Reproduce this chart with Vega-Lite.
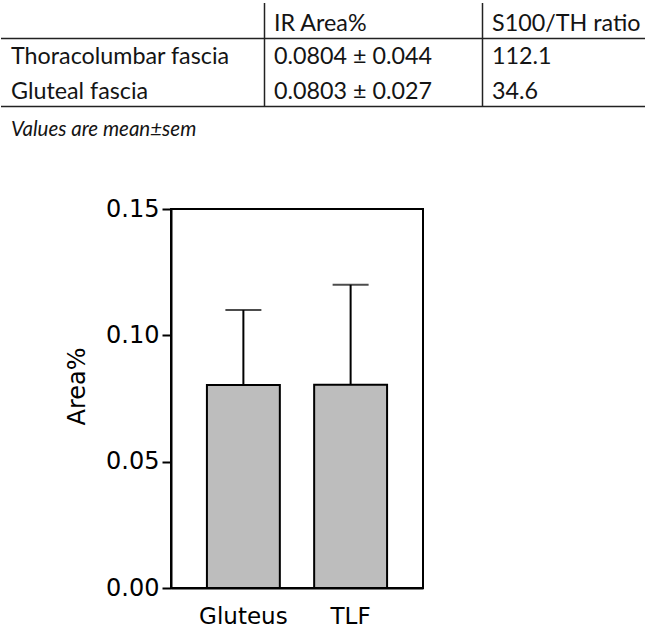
{
  "$schema": "https://vega.github.io/schema/vega-lite/v6.json",
  "width": 252,
  "height": 379,
  "padding": {"left": 0, "top": 2, "right": 0, "bottom": 4},
  "background": "white",
  "config": {"view": {"stroke": "black", "strokeWidth": 2}},
  "datasets": {
    "bars": [
      {"group": "Gluteus", "mean": 0.0803, "upper": 0.110},
      {"group": "TLF", "mean": 0.0804, "upper": 0.120}
    ],
    "cells": [
      {"row": 0, "col": 1, "text": "IR Area%"},
      {"row": 0, "col": 2, "text": "S100/TH ratio"},
      {"row": 1, "col": 0, "text": "Thoracolumbar fascia"},
      {"row": 1, "col": 1, "text": "0.0804 ± 0.044"},
      {"row": 1, "col": 2, "text": "112.1"},
      {"row": 2, "col": 0, "text": "Gluteal fascia"},
      {"row": 2, "col": 1, "text": "0.0803 ± 0.027"},
      {"row": 2, "col": 2, "text": "34.6"}
    ],
    "note": [
      {"row": 3, "col": 0, "text": "Values are mean±sem"}
    ],
    "hlines": [
      {"row": 0, "from": 0, "to": 3},
      {"row": 2, "from": 0, "to": 3}
    ],
    "vlines": [
      {"col": 1, "top": 0, "bottom": 2},
      {"col": 2, "top": 0, "bottom": 2}
    ]
  },
  "layer": [
    {
      "data": {"name": "bars"},
      "layer": [
        {
          "mark": {"type": "bar", "fill": "#bdbdbd", "stroke": "black", "strokeWidth": 2},
          "encoding": {
            "x": {
              "field": "group", "type": "nominal", "sort": null,
              "scale": {"paddingInner": 0.32, "paddingOuter": 0.335},
              "axis": {
                "title": null, "labelAngle": 0, "ticks": false, "domain": true,
                "domainColor": "black", "domainWidth": 2,
                "labelFont": "DejaVu Sans", "labelFontSize": 23, "labelColor": "black",
                "labelPadding": 17
              }
            },
            "y": {
              "field": "mean", "type": "quantitative",
              "scale": {"domain": [0, 0.15], "nice": false},
              "axis": {
                "title": "Area%", "values": [0, 0.05, 0.1, 0.15], "format": ".2f",
                "grid": false, "domainColor": "black", "domainWidth": 2,
                "tickColor": "black", "tickWidth": 2, "tickSize": 9,
                "labelFont": "DejaVu Sans", "labelFontSize": 24, "labelColor": "black",
                "labelPadding": 3,
                "titleFont": "DejaVu Sans", "titleFontSize": 24, "titleFontWeight": "normal",
                "titleColor": "black", "titlePadding": 16, "titleY": 177
              }
            }
          }
        },
        {
          "mark": {"type": "rule", "color": "black", "strokeWidth": 2},
          "encoding": {
            "x": {"field": "group", "type": "nominal", "sort": null},
            "y": {"field": "mean", "type": "quantitative"},
            "y2": {"field": "upper"}
          }
        },
        {
          "mark": {"type": "tick", "color": "black", "thickness": 2, "size": 36},
          "encoding": {
            "x": {"field": "group", "type": "nominal", "sort": null},
            "y": {"field": "upper", "type": "quantitative"}
          }
        }
      ]
    },
    {
      "layer": [
        {
          "data": {"name": "cells"},
          "mark": {"type": "text", "align": "left", "baseline": "alphabetic", "font": "Lato", "fontSize": 23.3, "color": "#141414"},
          "encoding": {
            "x": {"field": "col", "type": "quantitative", "scale": {"domain": [0, 1, 2, 3], "range": [-160, 103, 321, 485], "nice": false, "zero": false}, "axis": null},
            "y": {"field": "row", "type": "quantitative", "scale": {"domain": [0, 1, 2, 3], "range": [-178, -145, -110, -73], "nice": false, "zero": false}, "axis": null},
            "text": {"field": "text"}
          }
        },
        {
          "data": {"name": "note"},
          "mark": {"type": "text", "align": "left", "baseline": "alphabetic", "font": "Lato", "fontSize": 20.5, "fontStyle": "italic", "color": "#141414"},
          "encoding": {
            "x": {"field": "col", "type": "quantitative", "axis": null},
            "y": {"field": "row", "type": "quantitative", "axis": null},
            "text": {"field": "text"}
          }
        },
        {
          "data": {"name": "hlines"},
          "mark": {"type": "rule", "color": "#222222", "strokeWidth": 1.5, "xOffset": -10, "x2Offset": -10, "yOffset": 7.5},
          "encoding": {
            "x": {"field": "from", "type": "quantitative", "axis": null},
            "x2": {"field": "to"},
            "y": {"field": "row", "type": "quantitative", "axis": null}
          }
        },
        {
          "data": {"name": "vlines"},
          "mark": {"type": "rule", "color": "#222222", "strokeWidth": 1.5, "xOffset": -9.5, "yOffset": -28, "y2Offset": 7.5},
          "encoding": {
            "x": {"field": "col", "type": "quantitative", "axis": null},
            "y": {"field": "top", "type": "quantitative", "axis": null},
            "y2": {"field": "bottom"}
          }
        }
      ]
    }
  ],
  "resolve": {"scale": {"x": "independent", "y": "independent"}, "axis": {"x": "independent", "y": "independent"}}
}
